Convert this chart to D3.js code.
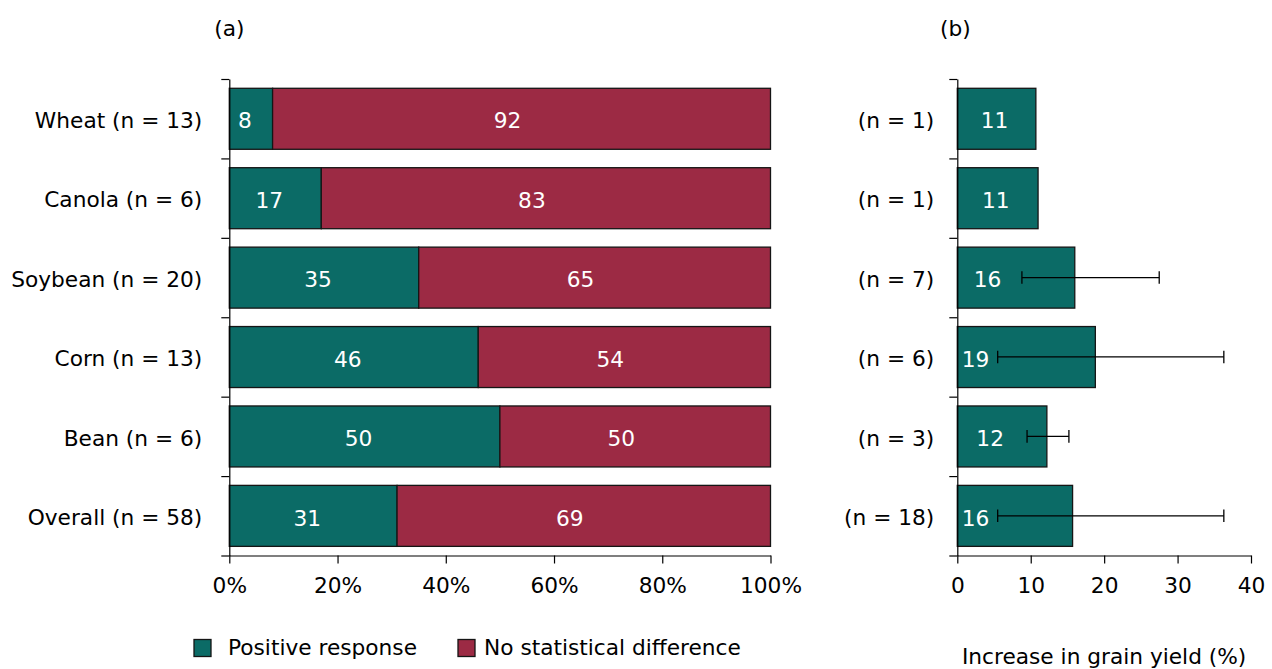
<!DOCTYPE html>
<html>
<head>
<meta charset="utf-8">
<title>grain yield response</title>
<script src="https://d3js.org/d3.v7.min.js"></script>
<style>
body { margin: 0; background: #fff; }
svg text { font-family: "DejaVu Sans", sans-serif; font-size: 21.7px; }
.axis path, .axis line { stroke: #000; stroke-width: 1.2px; }
.axis text { fill: #000; font-size: 21.7px; font-family: "DejaVu Sans", sans-serif; }
</style>
</head>
<body>
<svg class="chart"></svg>
<script>
// data
var crops = ["Wheat", "Canola", "Soybean", "Corn", "Bean", "Overall"];
var studies = [13, 6, 20, 13, 6, 58];
var positive = [8, 17, 35, 46, 50, 31];
var noDiff = [92, 83, 65, 54, 50, 69];

var yieldN = [1, 1, 7, 6, 3, 18];
var yieldGain = [10.7, 11.0, 16.0, 18.8, 12.2, 15.7];
var yieldLabel = [11, 11, 16, 19, 12, 16];
var errLow = [null, null, 8.8, 5.5, 9.5, 5.5];
var errHigh = [null, null, 27.5, 36.3, 15.2, 36.3];

var pctTicks = [0, 20, 40, 60, 80, 100];
var gainTicks = [0, 10, 20, 30, 40];

var series = ["Positive response", "No statistical difference"];
var colors = ["#0b6b66", "#9c2a44"];

var width = 1272, height = 669;
var plotTop = 79, plotBottom = 555.5;

var svg = d3.select(".chart")
	.attr("width", width)
	.attr("height", height);

svg.append("rect").attr("width", width).attr("height", height).attr("fill", "#fff");

// shared vertical scales
var yBand = d3.scaleBand().domain(crops).range([plotTop, plotBottom]).padding(0);
var yEdge = d3.scaleLinear().domain([0, crops.length]).range([plotTop, plotBottom]);
var barOff = yBand.bandwidth() * 0.117;
var barH = yBand.bandwidth() * 0.768;

// ---------- panel (a) ----------
var xA = d3.scaleLinear().domain([0, 100]).range([229.3, 770.5]);

var rowsA = crops.map(function(c, i){
	return {crop: c, n: studies[i], pos: positive[i], nd: noDiff[i]};
});

var gA = svg.append("g");

// stacked bars
rowsA.forEach(function(d){
	var segs = [
		{x0: 0, x1: d.pos, v: d.pos, k: 0},
		{x0: d.pos, x1: d.pos + d.nd, v: d.nd, k: 1}
	];
	var row = gA.append("g");
	row.selectAll("rect").data(segs).enter().append("rect")
		.attr("x", function(s){ return xA(s.x0); })
		.attr("y", yBand(d.crop) + barOff)
		.attr("width", function(s){ return xA(s.x1) - xA(s.x0); })
		.attr("height", barH)
		.attr("fill", function(s){ return colors[s.k]; })
		.attr("stroke", "#151515")
		.attr("stroke-width", 1.3);
	row.selectAll("text").data(segs).enter().append("text")
		.attr("x", function(s){ return (xA(s.x0) + xA(s.x1)) / 2 - (s.k === 0 ? 6 : 14); })
		.attr("y", yBand(d.crop) + yBand.bandwidth() / 2)
		.attr("dy", "0.45em")
		.attr("text-anchor", "middle")
		.attr("fill", "#fff")
		.text(function(s){ return s.v; });
});

// left axis: ticks on band edges, labels at band centres
gA.append("g")
	.attr("class", "axis")
	.attr("transform", "translate(229.3,0)")
	.call(d3.axisLeft(yEdge).tickValues(d3.range(crops.length + 1)).tickFormat("").tickSize(8).tickSizeOuter(0));

gA.append("g")
	.attr("class", "axis")
	.attr("transform", "translate(229.3,0)")
	.call(d3.axisLeft(yBand).tickSize(0).tickPadding(27).tickFormat(function(c){
		return c + " (n = " + studies[crops.indexOf(c)] + ")";
	}))
	.call(function(g){ g.select(".domain").remove(); g.selectAll("text").attr("dy", "0.42em"); });

// bottom axis
gA.append("g")
	.attr("class", "axis")
	.attr("transform", "translate(0," + plotBottom + ")")
	.call(d3.axisBottom(xA).tickValues(pctTicks).tickFormat(function(d){ return d + "%"; }).tickSize(8).tickSizeOuter(0).tickPadding(14));

svg.append("text")
	.attr("x", xA(0))
	.attr("y", 36)
	.attr("text-anchor", "middle")
	.text("(a)");

// legend
var legend = svg.append("g");
var legX = [194, 458];
series.forEach(function(s, i){
	legend.append("rect")
		.attr("x", legX[i]).attr("y", 639.5)
		.attr("width", 17).attr("height", 17)
		.attr("fill", colors[i])
		.attr("stroke", "#151515")
		.attr("stroke-width", 1.3);
	legend.append("text")
		.attr("x", legX[i] + 34 - (i === 1 ? 8 : 0))
		.attr("y", 655)
		.text(s);
});

// ---------- panel (b) ----------
var xB = d3.scaleLinear().domain([0, 40]).range([957.3, 1251]);

var rowsB = crops.map(function(c, i){
	return {crop: c, n: yieldN[i], v: yieldGain[i], lab: yieldLabel[i], lo: errLow[i], hi: errHigh[i]};
});

var gB = svg.append("g");

gB.selectAll(".barb").data(rowsB).enter().append("rect")
	.attr("class", "barb")
	.attr("x", xB(0))
	.attr("y", function(d){ return yBand(d.crop) + barOff; })
	.attr("width", function(d){ return xB(d.v) - xB(0); })
	.attr("height", barH)
	.attr("fill", colors[0])
	.attr("stroke", "#151515")
	.attr("stroke-width", 1.3);

var errRows = rowsB.filter(function(d){ return d.lo !== null; });
var cap = 6.3;
var mid = function(d){ return yBand(d.crop) + yBand.bandwidth() / 2; };
var err = gB.selectAll(".err").data(errRows).enter().append("g")
	.attr("class", "err")
	.attr("stroke", "#000")
	.attr("stroke-width", 1.3);
err.append("line")
	.attr("x1", function(d){ return xB(d.lo); })
	.attr("x2", function(d){ return xB(d.hi); })
	.attr("y1", mid)
	.attr("y2", mid);
err.append("line")
	.attr("x1", function(d){ return xB(d.lo); })
	.attr("x2", function(d){ return xB(d.lo); })
	.attr("y1", function(d){ return mid(d) - cap; })
	.attr("y2", function(d){ return mid(d) + cap; });
err.append("line")
	.attr("x1", function(d){ return xB(d.hi); })
	.attr("x2", function(d){ return xB(d.hi); })
	.attr("y1", function(d){ return mid(d) - cap; })
	.attr("y2", function(d){ return mid(d) + cap; });

gB.selectAll(".labb").data(rowsB).enter().append("text")
	.attr("class", "labb")
	.attr("x", function(d){
		var end = d.lo === null ? d.v : Math.min(d.v, d.lo);
		return (xB(0) + xB(end)) / 2 - 2;
	})
	.attr("y", mid)
	.attr("dy", "0.45em")
	.attr("text-anchor", "middle")
	.attr("fill", "#fff")
	.text(function(d){ return d.lab; });

gB.append("g")
	.attr("class", "axis")
	.attr("transform", "translate(957.3,0)")
	.call(d3.axisLeft(yEdge).tickValues(d3.range(crops.length + 1)).tickFormat("").tickSize(8).tickSizeOuter(0));

gB.append("g")
	.attr("class", "axis")
	.attr("transform", "translate(957.3,0)")
	.call(d3.axisLeft(yBand).tickSize(0).tickPadding(23).tickFormat(function(c){
		return "(n = " + yieldN[crops.indexOf(c)] + ")";
	}))
	.call(function(g){ g.select(".domain").remove(); g.selectAll("text").attr("dy", "0.42em"); });

gB.append("g")
	.attr("class", "axis")
	.attr("transform", "translate(0," + plotBottom + ")")
	.call(d3.axisBottom(xB).tickValues(gainTicks).tickSize(8).tickSizeOuter(0).tickPadding(14));

svg.append("text")
	.attr("x", xB(0) - 2)
	.attr("y", 36)
	.attr("text-anchor", "middle")
	.text("(b)");

svg.append("text")
	.attr("x", (xB(0) + xB(40)) / 2)
	.attr("y", 664)
	.attr("text-anchor", "middle")
	.text("Increase in grain yield (%)");
</script>
</body>
</html>
